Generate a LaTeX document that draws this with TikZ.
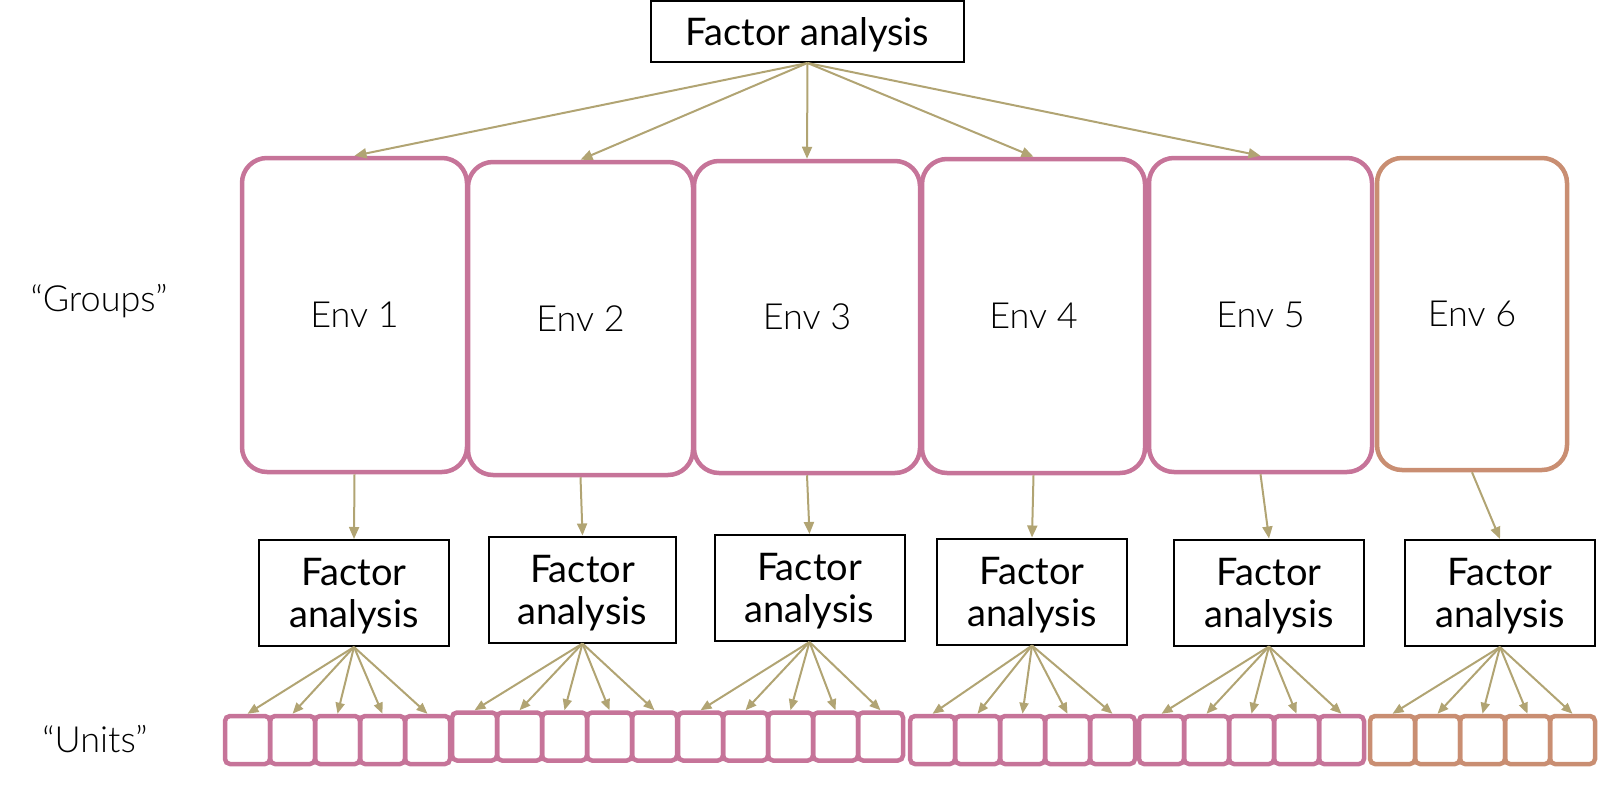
\documentclass[tikz,border=0pt]{standalone}
\usepackage{fontspec}
\setmainfont{Lato}
\newfontfamily\lightfont{Lato Light}
\usetikzlibrary{arrows.meta}
\definecolor{envpink}{HTML}{C67499}
\definecolor{envtan}{HTML}{C98E72}
\definecolor{arr}{HTML}{B1A473}
\newcommand{\nodepth}[1]{\raisebox{0pt}[\height][0pt]{#1}}
\begin{document}
\begin{tikzpicture}[x=1pt,y=-1pt,
  envbox/.style={draw=envpink, line width=4.5pt, rounded corners=25pt, inner sep=0pt,
    font=\lightfont\fontsize{36}{40}\selectfont},
  fabox/.style={draw=black, line width=2pt, minimum width=190pt, minimum height=106pt,
    align=center, inner sep=0pt, font=\fontsize{38}{42}\selectfont},
  topbox/.style={draw=black, line width=2pt, minimum width=313pt, minimum height=61pt,
    inner sep=0pt, font=\fontsize{38}{42}\selectfont},
  unitbox/.style={line width=4.5pt, rounded corners=5pt, minimum width=45pt,
    minimum height=48pt, inner sep=0pt},
  lbl/.style={anchor=base, inner sep=0pt, font=\lightfont\fontsize{36}{40}\selectfont},
  conn/.style={draw=arr, line width=2pt, -{Triangle[length=12pt,width=10pt]}},
  uconn/.style={draw=arr, line width=2pt, -{Triangle[length=11pt,width=9pt]}},
]
\useasboundingbox (0,0) rectangle (1598,787);

% top node
\node[topbox] (top) at (807.5,31.5) {\nodepth{Factor analysis}};

% environment boxes
\node[envbox, minimum width=225pt, minimum height=314pt] (e1) at (354.5,315) {Env 1};
\node[envbox, minimum width=225pt, minimum height=313pt] (e2) at (580.5,318.5) {Env 2};
\node[envbox, minimum width=226pt, minimum height=312pt] (e3) at (807,317) {Env 3};
\node[envbox, minimum width=223pt, minimum height=314pt] (e4) at (1033.5,316) {Env 4};
\node[envbox, minimum width=223pt, minimum height=314pt] (e5) at (1260.5,315) {Env 5};
\node[envbox, draw=envtan, minimum width=190pt, minimum height=312pt] (e6) at (1472,314) {Env 6};

% factor analysis boxes
\node[fabox] (fa1) at (354,593) {Factor\\\nodepth{analysis}};
\node[fabox, minimum width=187pt] (fa2) at (582.5,589.5) {Factor\\\nodepth{analysis}};
\node[fabox] (fa3) at (809.5,588) {Factor\\\nodepth{analysis}};
\node[fabox] (fa4) at (1032,591.5) {Factor\\\nodepth{analysis}};
\node[fabox] (fa5) at (1269,592.5) {Factor\\\nodepth{analysis}};
\node[fabox] (fa6) at (1500,593) {Factor\\\nodepth{analysis}};

% side labels
\node[lbl] (groups) at (99,311) {“Groups”};
\node[lbl] (units) at (95,752) {“Units”};

% unit boxes
\foreach \g/\x/\yc/\c in {1/225/740/envpink, 2/452/736.5/envpink, 3/678/736.5/envpink,
                          4/910/740/envpink, 5/1139/740/envpink, 6/1370/740/envtan} {
  \foreach \k in {1,...,5} {
    \node[unitbox, draw=\c] (u\g-\k) at ({\x+45*\k-22.5},\yc) {};
  }
}

% connectors top -> envs
\foreach \i in {1,...,5} {
  \draw[conn] (top.south) -- (e\i.north);
}
% envs -> factor analyses
\foreach \i in {1,...,6} {
  \draw[conn] (e\i.south) -- (fa\i.north);
}
% factor analyses -> units
\foreach \g in {1,...,6} {
  \foreach \k in {1,...,5} {
    \draw[uconn] (fa\g.south) -- (u\g-\k.north);
  }
}
\end{tikzpicture}
\end{document}
